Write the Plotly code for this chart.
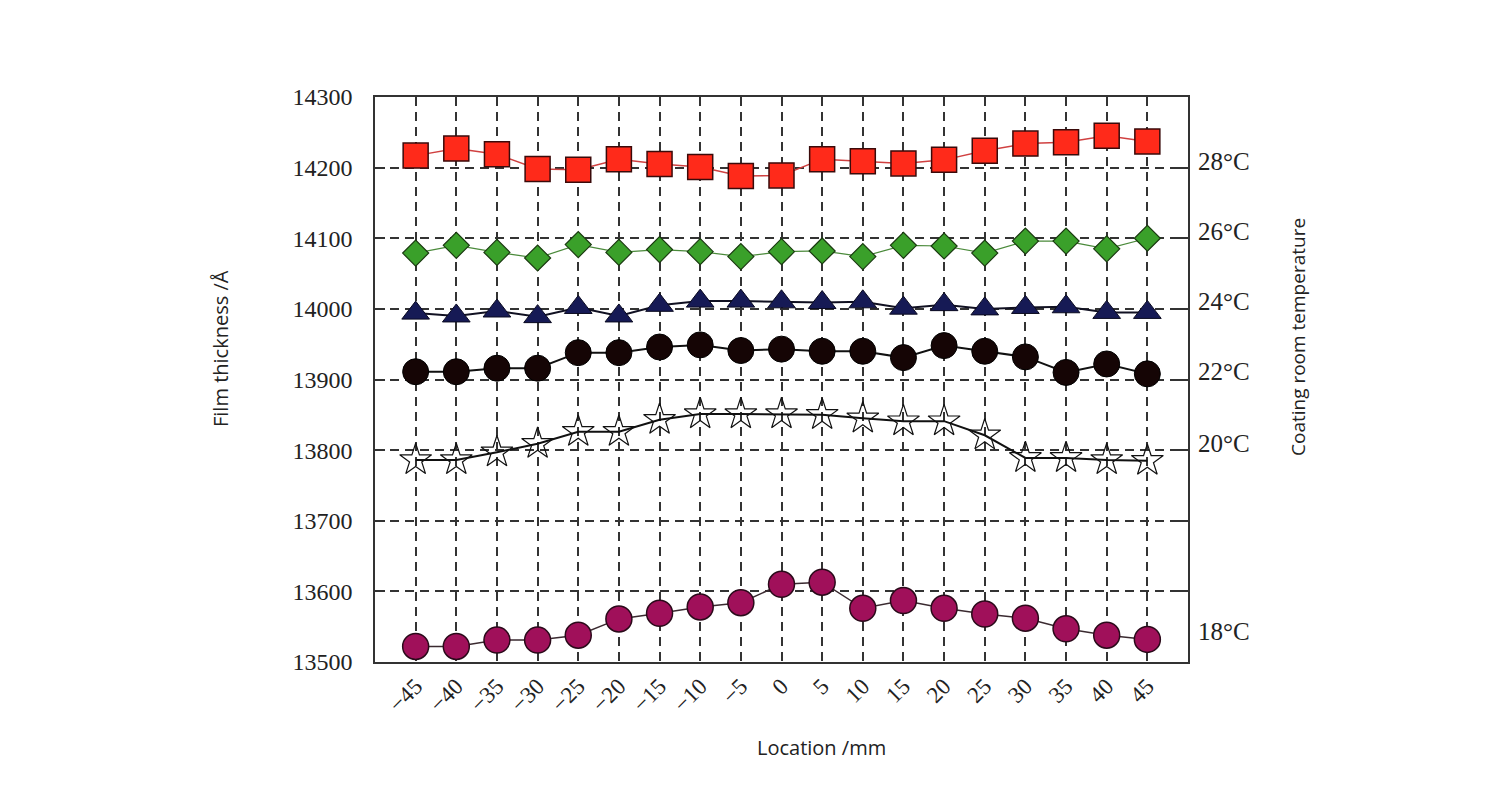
import plotly.graph_objects as go

location = [-45, -40, -35, -30, -25, -20, -15, -10, -5, 0, 5, 10, 15, 20, 25, 30, 35, 40, 45]

t28 = [14217, 14227, 14219, 14198, 14197, 14212, 14205, 14201, 14188, 14189,
       14212, 14209, 14206, 14211, 14224, 14234, 14236, 14245, 14237]
t26 = [14079, 14090, 14080, 14072, 14091, 14080, 14084, 14081, 14074, 14081,
       14082, 14074, 14090, 14089, 14079, 14096, 14096, 14085, 14100]
t24 = [13994, 13990, 13997, 13989, 14002, 13990, 14005, 14011, 14011, 14010,
       14009, 14010, 14001, 14006, 14000, 14002, 14003, 13995, 13995]
t22 = [13911, 13911, 13916, 13916, 13938, 13938, 13946, 13949, 13941, 13943,
       13940, 13940, 13931, 13948, 13940, 13932, 13910, 13922, 13908]
t20 = [13786, 13786, 13797, 13809, 13826, 13826, 13843, 13851, 13851, 13851,
       13850, 13845, 13841, 13841, 13821, 13789, 13789, 13786, 13785]
t18 = [13522, 13522, 13531, 13531, 13538, 13561, 13569, 13578, 13584, 13610,
       13613, 13576, 13587, 13576, 13568, 13562, 13547, 13538, 13532]

temp_labels = ["28°C", "26°C", "24°C", "22°C", "20°C", "18°C"]
temp_label_y = [14208, 14110, 14011, 13912, 13809, 13543]

y_ticks = [13500, 13600, 13700, 13800, 13900, 14000, 14100, 14200, 14300]
x_ticktext = [("\u2212" + str(-v)) if v < 0 else str(v) for v in location]

series = [
    (t18, dict(symbol="circle", size=26, color="#a0105a", line=dict(color="#2a0a1a", width=1.5)), dict(color="#3a2a30", width=1.5)),
    (t20, dict(symbol="star-open", size=24, color="#111111", line=dict(color="#111111", width=1.2)), dict(color="#111111", width=2)),
    (t22, dict(symbol="circle", size=26, color="#150505", line=dict(color="#000000", width=1)), dict(color="#111111", width=2)),
    (t24, dict(symbol="triangle-up", size=24, color="#161a55", line=dict(color="#0a0a20", width=1)), dict(color="#111122", width=2)),
    (t26, dict(symbol="diamond", size=20, color="#3aa02a", line=dict(color="#1a3a10", width=1.2)), dict(color="#4a8a3a", width=1.2)),
    (t28, dict(symbol="square", size=25, color="#ff2a1a", line=dict(color="#3a0a0a", width=1.5)), dict(color="#d04040", width=1.5)),
]

fig = go.Figure()
for vals, mk, ln in series:
    fig.add_trace(go.Scatter(x=location, y=vals, mode="lines+markers",
                             marker=mk, line=ln, showlegend=False, cliponaxis=False))

serif = "Liberation Serif"
sans = "Open Sans"

L, R, T, B = 375, 1188, 97, 662

fig.update_layout(
    width=1500, height=800,
    margin=dict(l=L, r=1500 - R, t=T, b=800 - B),
    paper_bgcolor="white", plot_bgcolor="white",
    xaxis=dict(range=[-50, 50], tickvals=location, ticktext=x_ticktext,
               tickangle=-45, tickfont=dict(family=serif, size=23, color="#222"),
               showgrid=True, gridcolor="#333", griddash="9px,6px", gridwidth=1.5,
               showline=True, linecolor="#333", linewidth=1.5, mirror=True,
               ticks="", zeroline=False),
    yaxis=dict(range=[13500, 14300], tickvals=y_ticks, ticktext=[str(v) for v in y_ticks],
               tickfont=dict(family=serif, size=24, color="#222"),
               showgrid=True, gridcolor="#333", griddash="9px,6px", gridwidth=1.5,
               showline=True, linecolor="#333", linewidth=1.5, mirror="ticks",
               ticks="inside", ticklen=10, tickcolor="#333", tickwidth=1.5,
               zeroline=False, ticklabelstandoff=16),
)

for lab, yv in zip(temp_labels, temp_label_y):
    fig.add_annotation(x=1.0, xref="paper", xanchor="left", xshift=8, y=yv, yref="y",
                       text=lab, showarrow=False,
                       font=dict(family=serif, size=25, color="#222"))


def px(xp):
    return (xp - L) / (R - L)


def py(yp):
    return (B - yp) / (B - T)


fig.add_annotation(x=px(1298), xref="paper", y=py(337), yref="paper",
                   xanchor="center", yanchor="middle",
                   text="Coating room temperature", textangle=-90, showarrow=False,
                   font=dict(family=sans, size=19, color="#222"))
fig.add_annotation(x=px(220), xref="paper", y=py(349), yref="paper",
                   xanchor="center", yanchor="middle",
                   text="Film thickness /Å", textangle=-90, showarrow=False,
                   font=dict(family=sans, size=20, color="#222"))
fig.add_annotation(x=px(821), xref="paper", y=py(747), yref="paper",
                   xanchor="center", yanchor="middle",
                   text="Location /mm", showarrow=False,
                   font=dict(family=sans, size=20, color="#222"))

fig.write_html("out.html")
